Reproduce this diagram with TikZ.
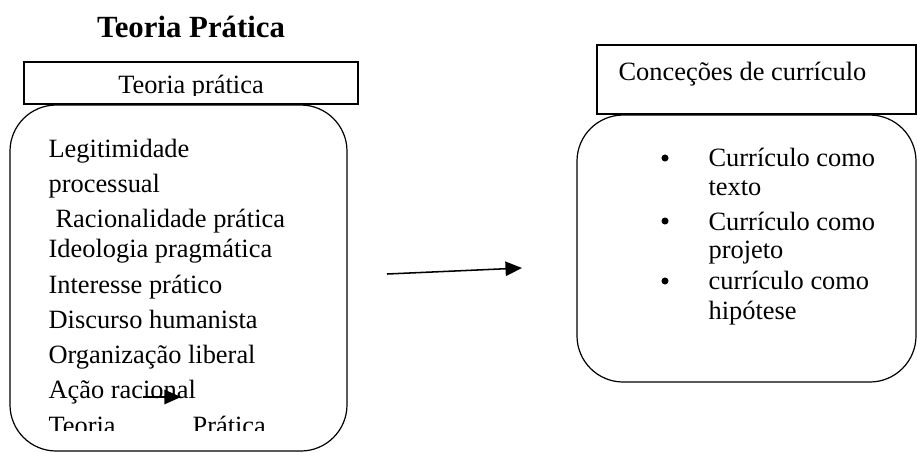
\documentclass[tikz,border=0pt]{standalone}
\usepackage{fontspec}
\setmainfont{Liberation Serif}
\usetikzlibrary{arrows.meta}

\begin{document}
\begin{tikzpicture}
		[x=0.4545pt, y=-0.4545pt, line width=0.55pt,
		redonda/.style={draw, rounded corners=21pt},
		linha/.style={anchor=base west, inner sep=0pt, font=\fontsize{12}{14}\selectfont},
		ponto/.style={circle, fill, inner sep=0pt, minimum size=3.2pt},
		seta/.style={-{Triangle[length=7.5pt,width=6.5pt]}, line width=0.7pt}
		]
		\useasboundingbox (0,0) rectangle (917,452);
		% titulo
		\node[anchor=base, inner sep=0pt, font=\fontsize{14}{16}\selectfont\bfseries] (titulo) at (191,37) {Teoria Prática};
		% lado esquerdo
		\draw (24,62) rectangle (358,104);
		\begin{scope}
			\clip (24,62) rectangle (358,95);
			\node[linha, anchor=base] (tptexto) at (191,93) {Teoria prática};
		\end{scope}
		\draw[redonda] (10,105) rectangle (347,451);
		\node[linha] (legit) at (48,157) {Legitimidade};
		\node[linha] (proc) at (48,192) {processual};
		\node[linha] (racio) at (55,227) {Racionalidade prática};
		\node[linha] (ideo) at (48,257) {Ideologia pragmática};
		\node[linha] (inter) at (48,293) {Interesse prático};
		\node[linha] (disc) at (48,328) {Discurso humanista};
		\node[linha] (org) at (48,363) {Organização liberal};
		\node[linha] (acao) at (48,398) {Ação racional};
		\begin{scope}
			\clip (10,405) rectangle (347,430);
			\node[linha] (teoria) at (48,434) {Teoria};
			\node[linha] (pratica) at (192,434) {Prática};
		\end{scope}
		\coordinate (sa) at (143,397);
		\coordinate (sb) at (181,397);
		\draw[seta] (sa) -- (sb);
		% seta do meio
		\coordinate (ma) at (387,274);
		\coordinate (mb) at (522,268);
		\draw[seta] (ma) -- (mb);
		% lado direito
		\draw (597,45) rectangle (916,114);
		\node[linha] (concep) at (618,80) {Conceções de currículo};
		\draw[redonda] (577,115) rectangle (916,382);
		\node[ponto] (b1) at (665,158) {};
		\node[linha] (c1) at (708,166) {Currículo como};
		\node[linha] (c1b) at (708,195) {texto};
		\node[ponto] (b2) at (665,221) {};
		\node[linha] (c2) at (708,230) {Currículo como};
		\node[linha] (c2b) at (708,258) {projeto};
		\node[ponto] (b3) at (665,281) {};
		\node[linha] (c3) at (708,289) {currículo como};
		\node[linha] (c3b) at (708,319) {hipótese};
	\end{tikzpicture}
\end{document}
